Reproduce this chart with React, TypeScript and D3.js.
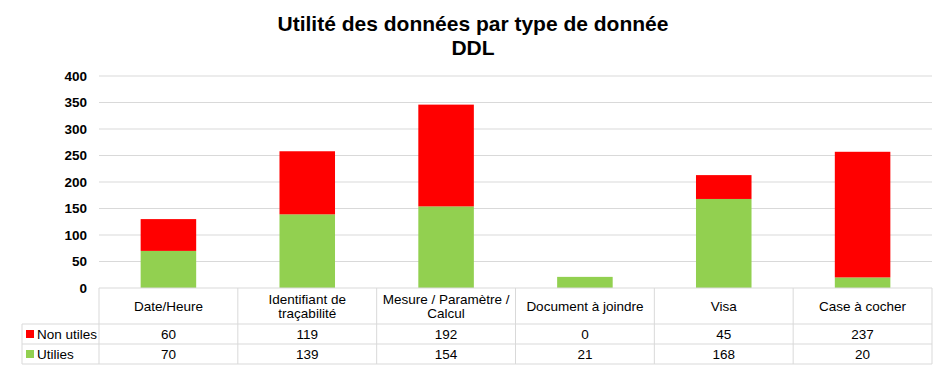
import React from "react";
import * as d3 from "d3";

const categories: string[][] = [
  ["Date/Heure"],
  ["Identifiant de", "traçabilité"],
  ["Mesure / Paramètre /", "Calcul"],
  ["Document à joindre"],
  ["Visa"],
  ["Case à cocher"],
];
const nonUtiles = [60, 119, 192, 0, 45, 237];
const utiles = [70, 139, 154, 21, 168, 20];
const yTicks = [0, 50, 100, 150, 200, 250, 300, 350, 400];
const seriesNames = ["Non utiles", "Utilies"];
const titleLines = ["Utilité des données par type de donnée", "DDL"];

const W = 946;
const H = 371;
const left = 99;
const right = 932;
const top = 76;
const bottom = 288;
const legendLeft = 22;
const headerBottom = 324;
const row1Bottom = 344;
const row2Bottom = 364;
const RED = "#ff0000";
const GREEN = "#92d050";
const GRID = "#d9d9d9";
const FONT = "Liberation Sans, Arial, sans-serif";

export default function App() {
  const idx = categories.map((_, i) => String(i));
  const x = d3.scaleBand<string>().domain(idx).range([left, right]).paddingInner(0).paddingOuter(0);
  const y = d3.scaleLinear().domain([0, 400]).range([bottom, top]);
  const bw = x.bandwidth() * 0.4;
  const stack = d3.stack<number>().keys(["u", "n"]).value((i, k) => (k === "u" ? utiles[i] : nonUtiles[i]));
  const series = stack(categories.map((_, i) => i));
  const colors: Record<string, string> = { u: GREEN, n: RED };
  const seriesRows = [
    { name: seriesNames[0], vals: nonUtiles, color: RED, y0: headerBottom, y1: row1Bottom },
    { name: seriesNames[1], vals: utiles, color: GREEN, y0: row1Bottom, y1: row2Bottom },
  ];
  const fs = 13.5;

  return (
    <svg width={W} height={H} style={{ position: "absolute", left: 0, top: 0, background: "#fff" }} fontFamily={FONT}>
      <rect width={W} height={H} fill="#fff" />
      <text x={473} y={31} textAnchor="middle" fontSize={21} fontWeight="bold" fill="#000">{titleLines[0]}</text>
      <text x={473} y={55} textAnchor="middle" fontSize={21} fontWeight="bold" fill="#000">{titleLines[1]}</text>

      {yTicks.map((t) => (
        <g key={t}>
          {t > 0 && <line x1={left} x2={right} y1={y(t)} y2={y(t)} stroke={GRID} strokeWidth={1} />}
          <text x={87} y={y(t)} dy="0.35em" textAnchor="end" fontSize={13.5} fontWeight="bold" fill="#000">{t}</text>
        </g>
      ))}

      {series.map((s) =>
        s.map((d, i) => (
          <rect key={s.key + i} x={x(String(i))! + (x.bandwidth() - bw) / 2} y={y(d[1])} width={bw}
            height={Math.max(0, y(d[0]) - y(d[1]))} fill={colors[s.key]} />
        ))
      )}

      <g stroke={GRID} strokeWidth={1} fill="none">
        <line x1={left} x2={right} y1={bottom} y2={bottom} />
        <line x1={legendLeft} x2={right} y1={headerBottom} y2={headerBottom} />
        <line x1={legendLeft} x2={right} y1={row1Bottom} y2={row1Bottom} />
        <line x1={legendLeft} x2={right} y1={row2Bottom} y2={row2Bottom} />
        <line x1={legendLeft} x2={legendLeft} y1={headerBottom} y2={row2Bottom} />
        {idx.map((k) => (
          <line key={k} x1={x(k)!} x2={x(k)!} y1={bottom} y2={row2Bottom} />
        ))}
        <line x1={right} x2={right} y1={bottom} y2={row2Bottom} />
      </g>

      {categories.map((lines, i) => {
        const cx = x(String(i))! + x.bandwidth() / 2;
        const cy = (bottom + headerBottom) / 2;
        const lh = 14;
        return (
          <text key={i} textAnchor="middle" fontSize={fs} fill="#000">
            {lines.map((l, j) => (
              <tspan key={j} x={cx} y={cy + (j - (lines.length - 1) / 2) * lh} dy="0.35em">{l}</tspan>
            ))}
          </text>
        );
      })}

      {seriesRows.map((r) => (
        <g key={r.name}>
          <rect x={26} y={(r.y0 + r.y1) / 2 - 4} width={8} height={8} fill={r.color} />
          <text x={37} y={(r.y0 + r.y1) / 2} dy="0.35em" fontSize={fs} fill="#000">{r.name}</text>
          {r.vals.map((v, i) => (
            <text key={i} x={x(String(i))! + x.bandwidth() / 2} y={(r.y0 + r.y1) / 2} dy="0.35em"
              textAnchor="middle" fontSize={fs} fill="#000">{v}</text>
          ))}
        </g>
      ))}
    </svg>
  );
}
